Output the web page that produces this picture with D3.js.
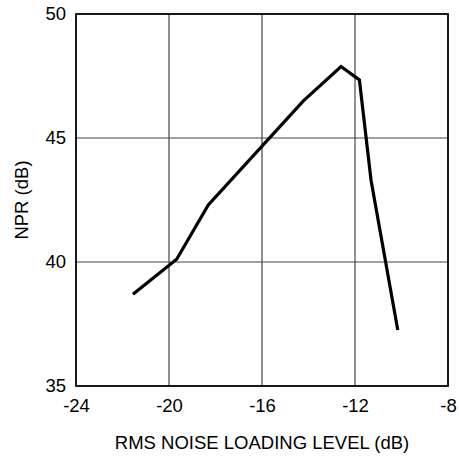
<!DOCTYPE html>
<html>
<head>
<meta charset="utf-8">
<script src="https://cdn.jsdelivr.net/npm/d3@7"></script>
<style>
  body { margin: 0; background: #fff; }
  svg text { font-family: "Liberation Sans", Arial, sans-serif; fill: #000; }
</style>
</head>
<body>
<div id="chart"></div>
<script>
// noise loading level (dB) vs NPR (dB)
const loadLevel = [-21.55, -19.67, -18.31, -14.22, -12.6, -11.81, -11.31, -10.16];
const nprValues = [38.7, 40.11, 42.3, 46.5, 47.88, 47.34, 43.3, 37.26];
const xTicks = [-24, -20, -16, -12, -8];
const yTicks = [35, 40, 45, 50];

const fullWidth = 459;
const fullHeight = 457;
const margin = { top: 14, right: 11, bottom: 71, left: 76 };
const width = fullWidth - margin.left - margin.right;
const height = fullHeight - margin.top - margin.bottom;
const fontSize = '18.5px';

const svg = d3.select('#chart')
  .append('svg')
  .attr('width', fullWidth)
  .attr('height', fullHeight);

const g = svg.append('g')
  .attr('transform', `translate(${margin.left}, ${margin.top})`);

const xScale = d3.scaleLinear().domain([-24, -8]).range([0, width]);
const yScale = d3.scaleLinear().domain([35, 50]).range([height, 0]);

// grid
g.append('g')
  .selectAll('line')
  .data(xTicks.slice(1, -1))
  .enter()
  .append('line')
  .attr('x1', d => xScale(d)).attr('x2', d => xScale(d))
  .attr('y1', 0).attr('y2', height)
  .attr('stroke', '#444').attr('stroke-width', 1.2);

g.append('g')
  .selectAll('line')
  .data(yTicks.slice(1, -1))
  .enter()
  .append('line')
  .attr('y1', d => yScale(d)).attr('y2', d => yScale(d))
  .attr('x1', 0).attr('x2', width)
  .attr('stroke', '#444').attr('stroke-width', 1.2);

// axes (labels only), plain hyphen for minus
const xAxis = d3.axisBottom(xScale).tickValues(xTicks).tickSize(0).tickPadding(13)
  .tickFormat(d => String(d));
const yAxis = d3.axisLeft(yScale).tickValues(yTicks).tickSize(0).tickPadding(10)
  .tickFormat(d => String(d));

const xg = g.append('g').attr('transform', `translate(0, ${height})`).call(xAxis);
const yg = g.append('g').call(yAxis);
[xg, yg].forEach(a => {
  a.select('.domain').remove();
  a.selectAll('text').style('font-size', fontSize)
    .style('font-family', '"Liberation Sans", Arial, sans-serif').attr('fill', '#000');
});

// frame
g.append('rect')
  .attr('x', 0).attr('y', 0)
  .attr('width', width).attr('height', height)
  .attr('fill', 'none').attr('stroke', '#000').attr('stroke-width', 1.8);

// data line
const line = d3.line()
  .x((d, i) => xScale(loadLevel[i]))
  .y(d => yScale(d));

g.append('path')
  .datum(nprValues)
  .attr('d', line)
  .attr('fill', 'none')
  .attr('stroke', '#000')
  .attr('stroke-width', 3.2)
  .attr('stroke-linejoin', 'miter');

// titles
svg.append('text')
  .attr('x', margin.left + width / 2)
  .attr('y', 449)
  .attr('text-anchor', 'middle')
  .style('font-size', fontSize)
  .text('RMS NOISE LOADING LEVEL (dB)');

svg.append('text')
  .attr('transform', `translate(28, ${margin.top + height / 2}) rotate(-90)`)
  .attr('text-anchor', 'middle')
  .style('font-size', fontSize)
  .text('NPR (dB)');
</script>
</body>
</html>
